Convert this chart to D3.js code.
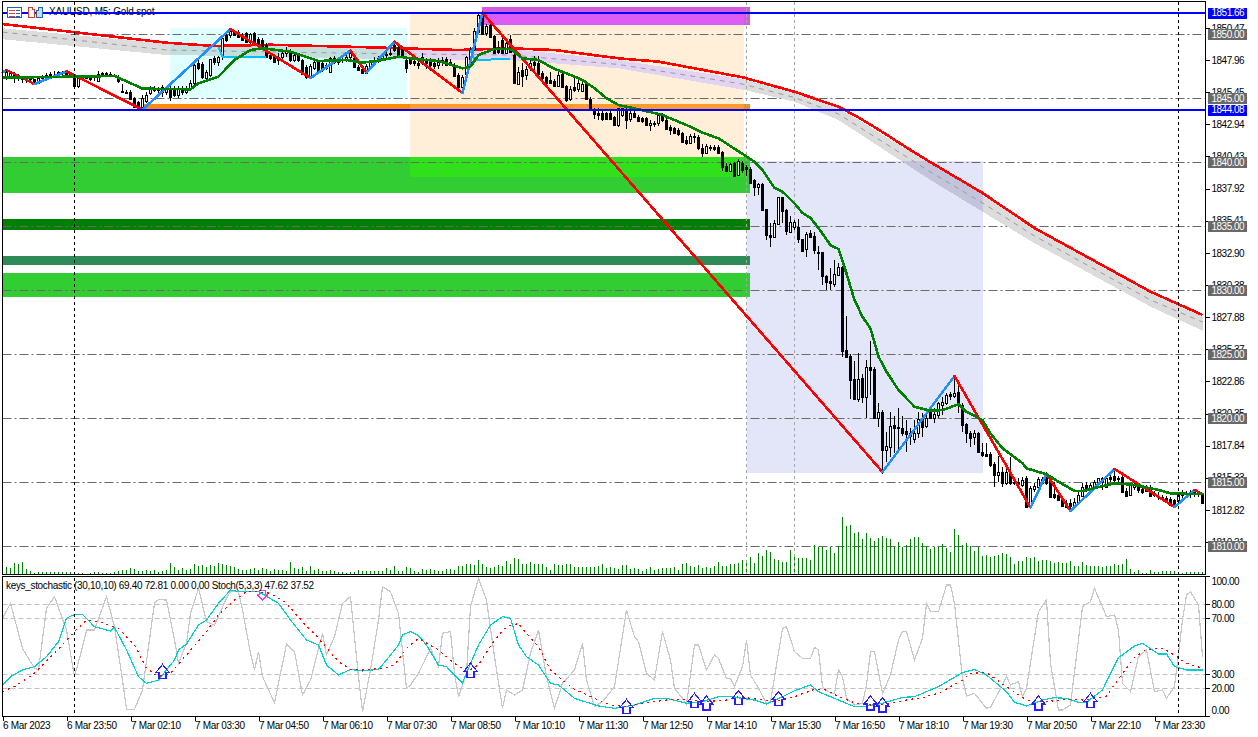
<!DOCTYPE html>
<html><head><meta charset="utf-8">
<script src="https://cdnjs.cloudflare.com/ajax/libs/d3/7.8.5/d3.min.js"></script>
<style>html,body{margin:0;padding:0;background:#fff;overflow:hidden}svg{display:block}
text{font-family:"Liberation Sans",Arial,sans-serif;font-size:10px;letter-spacing:-0.5px}</style></head>
<body><svg id="c" width="1258" height="737"></svg>
<script>
const candleOpen=[
1846.62,1846.7,1846.9,1846.62,1846.55,1846.5,1846.6,1846.45,1846.15,1846.55,
1846.7,1846.8,1846.9,1846.85,1847.0,1846.95,1846.85,1846.65,1845.95,1846.55,
1846.65,1846.6,1846.5,1846.3,1846.85,1846.95,1846.85,1846.8,1846.65,1845.55,
1845.5,1845.5,1844.98,1844.7,1844.33,1844.75,1845.37,1845.76,1845.6,1845.85,
1845.5,1845.76,1845.68,1845.24,1845.7,1845.5,1845.76,1846.15,1847.71,1847.65,
1846.54,1846.8,1848.1,1847.79,1848.29,1849.93,1849.93,1850.19,1850.19,1849.9,
1850.06,1849.4,1850.06,1849.6,1849.54,1849.14,1848.36,1848.29,1848.23,1848.23,
1848.49,1848.62,1847.97,1848.36,1847.97,1847.45,1846.62,1847.32,1847.84,1847.71,
1847.58,1847.06,1848.1,1847.8,1847.95,1848.05,1848.2,1848.1,1847.45,1847.24,
1846.98,1847.5,1847.92,1848.0,1848.1,1848.36,1848.45,1849.14,1849.01,1848.88,
1847.97,1848.02,1847.9,1847.7,1847.84,1847.97,1848.02,1847.7,1847.6,1847.85,
1848.02,1847.84,1847.5,1846.8,1845.84,1846.9,1847.84,1848.81,1850.19,1851.55,
1850.06,1850.7,1849.85,1849.01,1849.54,1848.49,1849.59,1848.36,1846.1,1847.19,
1846.8,1847.32,1847.79,1847.71,1846.98,1846.62,1846.41,1846.33,1845.94,1846.85,
1845.94,1844.9,1845.89,1845.68,1845.55,1846.07,1844.93,1844.12,1843.81,1843.81,
1843.81,1843.86,1843.5,1842.87,1843.68,1844.07,1843.34,1843.86,1843.55,1843.42,
1843.42,1842.87,1843.08,1843.03,1843.68,1843.29,1842.7,1842.63,1842.5,1842.24,
1841.72,1841.51,1841.93,1841.98,1841.07,1840.73,1841.2,1841.15,1841.15,1840.76,
1839.72,1839.33,1839.9,1838.99,1839.95,1839.64,1839.46,1838.6,1838.08,1838.28,
1836.3,1834.3,1834.17,1835.16,1837.24,1836.25,1834.56,1834.9,1834.9,1833.96,
1833.18,1834.43,1834.22,1832.97,1832.97,1831.1,1830.7,1830.47,1831.17,1831.83,
1825.31,1824.84,1823.05,1821.46,1823.1,1821.67,1823.96,1823.83,1819.98,1820.45,
1817.5,1817.76,1819.46,1819.33,1819.2,1818.98,1818.8,1818.39,1818.8,1819.9,
1819.38,1820.44,1820.03,1820.24,1821.02,1821.15,1821.85,1821.75,1822.0,1821.02,
1819.5,1818.86,1818.5,1818.8,1817.37,1817.16,1817.19,1816.38,1815.53,1815.81,
1814.95,1815.81,1815.03,1815.03,1814.77,1815.29,1813.07,1814.45,1814.64,1814.9,
1815.55,1815.29,1814.06,1813.98,1813.6,1813.33,1813.33,1813.12,1813.46,1813.9,
1814.77,1814.5,1814.69,1814.9,1815.29,1814.64,1815.42,1815.47,1815.29,1815.36,
1814.32,1813.98,1814.64,1814.77,1814.43,1814.69,1814.64,1814.11,1813.91,1813.8,
1813.72,1813.65,1813.59,1813.54,1814.11,1814.11,1814.17,1814.32,1814.11,1814.06];
const candleHigh=[
1847.19,1847.1,1847.0,1846.85,1846.7,1846.7,1846.72,1846.5,1846.65,1846.8,
1846.95,1847.05,1847.1,1847.1,1847.1,1847.15,1847.05,1846.8,1846.65,1846.75,
1846.8,1846.72,1846.75,1847.1,1847.05,1847.05,1847.0,1846.9,1846.8,1846.1,
1845.65,1845.65,1845.1,1844.8,1845.2,1845.5,1845.95,1845.9,1845.85,1846.0,
1845.95,1846.25,1845.9,1845.9,1845.95,1845.9,1846.4,1847.7,1847.95,1847.8,
1847.2,1848.05,1848.3,1848.3,1849.75,1850.1,1850.3,1850.3,1850.28,1850.1,
1850.15,1850.1,1850.15,1849.75,1849.65,1849.3,1848.55,1848.4,1848.5,1848.75,
1849.0,1848.8,1848.55,1848.5,1848.05,1847.6,1847.65,1848.0,1848.0,1847.85,
1847.7,1848.2,1848.25,1848.05,1848.15,1848.35,1848.7,1848.25,1847.55,1847.35,
1847.65,1848.0,1848.2,1848.25,1848.5,1848.6,1848.8,1849.4,1849.1,1849.0,
1848.3,1848.2,1848.0,1848.0,1848.55,1848.1,1848.15,1848.0,1848.1,1848.2,
1848.2,1848.05,1847.7,1846.95,1846.8,1848.3,1849.0,1850.5,1851.66,1851.66,
1850.8,1850.9,1849.95,1849.45,1849.85,1849.6,1849.9,1848.7,1847.4,1847.7,
1847.5,1848.1,1848.25,1848.3,1847.1,1846.75,1847.0,1846.45,1847.05,1847.0,
1846.0,1845.9,1846.6,1846.5,1846.35,1846.25,1845.1,1844.25,1844.2,1843.95,
1843.9,1844.0,1843.6,1844.25,1844.25,1844.2,1844.05,1844.0,1843.7,1843.55,
1843.55,1843.3,1843.2,1843.85,1843.85,1843.4,1842.9,1842.75,1842.65,1842.35,
1842.0,1842.2,1842.25,1842.1,1841.4,1841.4,1841.35,1841.3,1841.3,1840.85,
1839.95,1839.9,1840.0,1840.2,1840.1,1839.8,1839.6,1838.7,1838.34,1838.35,
1836.35,1835.2,1835.47,1837.25,1837.3,1836.3,1835.78,1835.47,1835.52,1834.0,
1834.56,1834.7,1834.56,1833.44,1833.0,1831.2,1831.7,1832.35,1832.09,1831.9,
1827.97,1825.0,1824.46,1825.1,1823.44,1824.53,1826.02,1824.0,1821.15,1820.63,
1818.93,1820.5,1820.16,1820.76,1820.16,1819.85,1819.2,1819.85,1820.5,1820.37,
1820.5,1820.63,1820.76,1821.28,1821.67,1821.93,1822.06,1823.23,1822.71,1821.2,
1819.6,1819.0,1819.07,1818.93,1818.03,1818.07,1817.37,1816.6,1817.0,1816.2,
1816.0,1816.98,1815.4,1815.3,1815.42,1815.5,1814.7,1814.9,1815.4,1815.42,
1815.8,1815.5,1815.03,1814.1,1813.7,1813.6,1813.65,1813.72,1814.24,1814.95,
1815.03,1814.9,1815.16,1815.34,1815.4,1815.4,1815.68,1815.99,1815.47,1815.5,
1814.5,1814.85,1815.03,1814.9,1814.6,1814.77,1814.8,1814.3,1814.24,1813.95,
1813.9,1813.8,1813.7,1814.1,1814.38,1814.3,1814.38,1814.43,1814.24,1814.15];
const candleLow=[
1846.41,1846.5,1846.2,1846.3,1846.2,1846.15,1846.3,1846.1,1846.1,1846.45,
1846.55,1846.65,1846.7,1846.7,1846.8,1846.75,1846.6,1845.9,1845.75,1846.4,
1846.45,1846.3,1846.35,1846.25,1846.7,1846.75,1846.7,1846.65,1846.2,1845.4,
1845.35,1844.85,1844.2,1844.25,1844.08,1844.6,1845.2,1845.45,1845.35,1845.05,
1845.25,1844.8,1845.1,1845.0,1845.2,1845.3,1845.6,1845.9,1847.2,1846.5,
1846.35,1846.65,1847.6,1847.5,1848.0,1849.4,1849.7,1849.85,1849.7,1849.45,
1849.35,1849.25,1849.25,1849.1,1848.9,1848.1,1848.0,1847.7,1847.55,1847.9,
1848.2,1847.85,1847.85,1847.8,1846.8,1846.5,1846.5,1847.2,1847.0,1847.05,
1847.15,1846.95,1847.65,1847.6,1847.7,1847.85,1848.0,1847.4,1847.1,1846.85,
1846.88,1847.35,1847.7,1847.75,1847.95,1848.1,1848.25,1848.6,1848.2,1848.15,
1846.95,1847.55,1847.5,1847.3,1847.6,1847.3,1847.1,1847.3,1847.3,1847.5,
1847.5,1847.55,1846.7,1845.85,1845.65,1846.6,1847.5,1848.7,1850.0,1849.9,
1849.85,1849.7,1848.4,1848.4,1848.4,1848.4,1848.5,1846.1,1846.0,1845.85,
1846.4,1847.1,1847.2,1846.75,1846.3,1846.05,1846.1,1845.9,1845.85,1845.85,
1844.7,1844.8,1845.5,1845.5,1845.45,1844.85,1844.1,1843.35,1843.3,1843.2,
1843.3,1843.3,1842.85,1842.75,1843.5,1842.6,1843.1,1843.4,1843.1,1843.05,
1842.8,1842.4,1842.7,1842.85,1843.1,1842.5,1842.1,1842.15,1842.05,1841.55,
1841.3,1841.4,1841.5,1840.9,1840.4,1840.6,1840.85,1840.85,1840.6,1839.3,
1839.2,1839.25,1838.9,1838.9,1839.12,1838.9,1838.3,1837.35,1837.43,1836.25,
1833.9,1833.34,1834.04,1835.1,1835.2,1834.3,1834.43,1834.7,1833.65,1833.0,
1832.6,1834.1,1832.82,1831.56,1830.39,1830.0,1830.0,1830.21,1831.1,1824.79,
1824.79,1821.46,1821.41,1821.28,1821.15,1819.98,1821.8,1819.98,1819.33,1815.63,
1816.59,1816.98,1817.28,1817.28,1818.6,1817.37,1817.9,1818.02,1818.41,1818.54,
1819.2,1819.9,1819.58,1819.98,1820.24,1821.0,1821.4,1821.54,1820.37,1818.93,
1818.02,1817.76,1817.89,1817.24,1816.98,1816.98,1816.2,1814.64,1815.03,1814.64,
1814.8,1814.77,1814.8,1814.5,1814.6,1813.02,1812.94,1814.2,1814.5,1814.8,
1814.8,1813.8,1813.7,1813.5,1813.07,1813.0,1812.76,1813.0,1813.33,1813.8,
1814.2,1814.3,1814.5,1814.64,1814.38,1814.5,1815.0,1815.03,1815.03,1814.17,
1813.8,1813.9,1814.38,1814.12,1814.06,1814.2,1813.85,1813.8,1813.59,1813.5,
1813.35,1813.1,1813.0,1813.33,1813.72,1813.72,1813.72,1813.85,1813.8,1813.28];
const candleClose=[
1847.06,1846.95,1846.62,1846.55,1846.5,1846.6,1846.5,1846.15,1846.55,1846.7,
1846.8,1846.9,1846.85,1847.0,1846.95,1846.85,1846.7,1845.95,1846.55,1846.65,
1846.6,1846.5,1846.45,1846.85,1846.95,1846.85,1846.8,1846.7,1846.3,1845.5,
1845.42,1844.95,1844.3,1844.33,1844.98,1845.24,1845.76,1845.6,1845.7,1845.5,
1845.8,1845.11,1845.24,1845.7,1845.5,1845.8,1846.15,1847.58,1847.32,1846.67,
1847.06,1848.02,1847.84,1848.18,1849.66,1849.54,1850.26,1849.95,1849.8,1849.55,
1849.4,1850.0,1849.33,1849.27,1849.01,1848.23,1848.1,1847.84,1848.0,1848.55,
1848.75,1847.97,1848.36,1847.97,1846.88,1846.62,1847.53,1847.79,1847.06,1847.19,
1847.32,1848.1,1847.8,1847.95,1848.05,1848.2,1848.5,1847.45,1847.19,1846.93,
1847.5,1847.92,1848.0,1848.1,1848.36,1848.45,1848.55,1848.75,1848.29,1848.23,
1847.32,1847.71,1847.7,1847.6,1848.23,1847.71,1847.58,1847.5,1847.85,1848.0,
1847.58,1847.58,1846.72,1845.89,1846.62,1848.2,1848.75,1850.24,1851.49,1849.98,
1850.63,1849.8,1848.49,1848.62,1848.49,1849.27,1848.62,1846.15,1847.06,1846.72,
1847.27,1847.71,1847.58,1846.88,1846.54,1846.15,1846.15,1845.97,1846.8,1845.89,
1844.85,1845.71,1845.63,1846.15,1846.07,1844.9,1844.12,1843.75,1843.68,1843.34,
1843.34,1843.34,1842.9,1844.2,1844.2,1843.29,1843.81,1843.55,1843.23,1843.23,
1842.9,1843.08,1842.97,1843.68,1843.29,1842.56,1842.5,1842.24,1842.19,1841.59,
1841.51,1842.03,1842.03,1841.07,1840.73,1841.28,1841.07,1841.02,1840.73,1839.64,
1839.33,1839.82,1838.94,1840.11,1839.38,1839.43,1838.34,1838.08,1838.26,1836.25,
1834.3,1834.12,1835.21,1837.24,1836.2,1834.64,1835.31,1835.29,1833.96,1833.08,
1834.35,1834.17,1833.13,1832.87,1831.1,1830.65,1830.52,1831.23,1831.77,1825.26,
1824.79,1822.97,1821.46,1823.08,1821.67,1823.96,1823.75,1820.0,1820.45,1817.5,
1817.79,1819.38,1819.2,1819.2,1818.86,1818.73,1818.6,1818.86,1819.9,1819.33,
1819.98,1820.03,1820.29,1821.15,1821.28,1821.8,1821.75,1821.98,1821.02,1819.46,
1818.8,1818.41,1818.8,1817.37,1817.11,1817.03,1816.33,1815.55,1815.78,1814.95,
1815.81,1814.95,1814.9,1814.84,1815.16,1813.07,1814.5,1814.69,1815.21,1815.23,
1814.9,1813.85,1813.85,1813.6,1813.12,1813.07,1813.12,1813.46,1813.98,1814.64,
1814.45,1814.77,1815.03,1815.29,1815.03,1815.29,1815.23,1815.16,1815.21,1814.24,
1813.91,1814.77,1814.77,1814.38,1814.22,1814.32,1813.91,1813.98,1813.8,1813.65,
1813.46,1813.2,1813.07,1813.98,1813.98,1814.06,1814.06,1814.06,1814.03,1813.39];
const tickVolume=[
70,60,110,100,120,50,30,10,20,20,20,20,20,20,20,20,20,20,10,10,
0,10,20,20,10,10,10,20,30,40,40,60,50,30,30,40,30,40,20,30,
40,110,70,40,60,40,50,100,80,90,70,90,80,110,100,90,80,70,50,40,
40,50,60,40,60,50,30,50,40,40,30,120,60,50,70,30,80,40,50,30,
30,40,30,20,20,10,20,20,40,30,30,30,30,30,30,60,40,80,30,30,
70,60,30,20,50,40,50,40,30,30,50,50,40,80,80,100,100,90,140,100,
70,60,70,90,80,130,100,160,150,100,100,120,100,100,100,70,40,100,90,90,
100,100,70,70,70,70,70,70,80,100,60,70,60,50,90,90,50,60,50,30,
50,70,40,50,60,60,60,70,40,100,110,80,70,90,60,70,60,80,120,80,
80,100,100,110,140,130,170,110,210,180,240,220,150,140,120,120,240,170,160,160,
160,140,290,270,270,240,270,210,280,570,480,490,410,420,350,410,360,330,360,380,
360,350,270,320,270,290,350,370,370,310,280,250,270,270,300,260,220,450,390,290,
310,280,230,270,180,190,170,180,190,210,200,170,100,130,130,170,160,170,130,140,
140,130,110,120,110,110,130,80,80,120,90,80,80,80,70,80,80,100,90,100,
150,50,20,40,10,10,40,20,20,30,30,30,30,20,10,20,20,20,20,20];
const zigzagBars=[-1,0,7,15,34,56,76,86,90,97,114,119,219,237,256,260,266,277,292,297,299];
const zigzagPrices=[1847.0,1847.19,1846.09,1847.08,1844.08,1850.39,1846.56,1848.7,1846.98,1849.4,1845.39,1851.66,1815.78,1823.28,1813.0,1815.63,1812.73,1816.02,1813.05,1814.38,1814.06];
const fastMaBars=[-1,15,27,32,34,46,48,53,57,61,64,71,78,85,89,93,98,103,108,114,116,118,122,126,129,133,137,140,144,147,150,153,158,164,170,174,178,184,187,189,192,194,197,199,201,203,206,208,210,212,214,216,218,220,223,227,231,234,238,240,244,246,249,254,255,260,263,267,269,277,282,288,291,297,299];
const fastMaPrices=[1846.59,1846.66,1846.72,1846.02,1845.73,1845.68,1846.15,1846.67,1847.97,1848.75,1848.88,1848.62,1847.89,1847.97,1847.76,1847.92,1848.23,1848.02,1847.89,1847.32,1847.45,1848.36,1848.83,1848.83,1848.1,1847.97,1847.27,1846.93,1846.41,1845.76,1844.98,1844.45,1844.12,1843.67,1842.89,1842.29,1841.85,1840.63,1840.02,1839.38,1837.97,1837.68,1836.77,1836.02,1835.63,1834.84,1833.51,1833.2,1831.3,1829.22,1827.91,1827.0,1824.79,1823.62,1822.19,1820.88,1820.57,1820.62,1821.07,1820.49,1819.84,1818.8,1817.63,1816.46,1816.07,1815.6,1815.02,1814.3,1814.3,1814.9,1814.77,1814.38,1814.11,1814.06,1814.06];
const slowMaBars=[-1,40,52,66,91,99,113,126,137,153,163,184,197,208,213,219,225,231,244,257,286,299];
const slowMaPrices=[1850.78,1849.32,1849.06,1849.16,1848.96,1848.88,1848.75,1848.88,1848.75,1848.1,1847.84,1846.62,1845.49,1844.32,1843.48,1842.34,1841.13,1839.98,1837.58,1834.84,1829.87,1828.05];
const bandBars=[-1,40,66,99,126,153,184,197,208,231,244,257,286,299];
const bandUpper=[1850.45,1849.24,1849.1,1848.85,1848.83,1847.97,1846.48,1845.39,1844.22,1839.88,1837.46,1834.77,1829.77,1827.97];
const bandLower=[1849.59,1848.36,1848.23,1848.02,1847.97,1847.32,1845.66,1844.71,1843.28,1838.59,1836.12,1833.65,1828.7,1826.82];
const bandMiddle=[1850.15,1848.75,1848.6,1848.44,1848.36,1847.62,1846.09,1845.04,1843.75,1839.22,1836.8,1834.22,1829.22,1827.5];
const guideBars=[[53,54,65],[116,117,126]];
const guidePrices=[[1849.0,1848.2,1848.24],[1848.75,1847.97,1848.05]];
const priceTicks=[1850.47,1847.96,1845.45,1842.94,1840.43,1837.92,1835.41,1832.90,1830.38,1827.88,1825.37,1822.86,1820.35,1817.84,1815.33,1812.82,1810.31];
const roundLevels=[1850,1845,1840,1835,1830,1825,1820,1815,1810];
const blueLevels=[1851.66,1844.08];
const timeTickBars=[-1,15,31,47,63,79,95,111,127,143,159,175,191,207,223,239,255,271,287];
const timeTickLabels=["6 Mar 2023","6 Mar 23:50","7 Mar 02:10","7 Mar 03:30","7 Mar 04:50","7 Mar 06:10","7 Mar 07:30","7 Mar 08:50","7 Mar 10:10","7 Mar 11:30","7 Mar 12:50","7 Mar 14:10","7 Mar 15:30","7 Mar 16:50","7 Mar 18:10","7 Mar 19:30","7 Mar 20:50","7 Mar 22:10","7 Mar 23:30"];
const stochTicks=[100,80,70,30,20,0];
const stochLevels=[80,70,30,20];
const stochMainBars=[-1,1,4,7,10,13,15,17,19,22,26,27,30,33,35,38,40,42,43,45,48,50,53,56,58,63,68,71,75,78,80,83,86,89,93,95,98,99,101,103,105,108,110,112,114,116,118,121,124,126,128,130,133,136,138,142,148,152,157,162,165,170,174,178,181,187,190,194,197,201,203,206,208,212,214,219,224,227,233,239,242,245,250,252,255,259,262,265,268,270,274,278,279,282,284,288,290,292,295,299];
const stochMainValues=[22.4,28.3,33.1,35.5,42.6,53.3,70,72.8,72.8,64,60.9,63.5,47.4,28.3,23.5,25.9,33.1,40.2,47.4,51.6,65.2,68.8,80.7,90.2,89,89,80.7,68.8,54.5,50.9,36.6,29.5,33.5,32.4,33.5,40.2,50.9,58.1,60.5,57.6,50.9,36.6,35.5,29.5,24,37.8,50.9,65.2,71.2,70,50.9,42.6,36.6,23.5,22.4,12.8,7.4,5.7,8.1,12.8,12.8,9.3,10.5,14,14,11.6,8.8,14,18.3,22.4,17.6,14,11.6,6.9,6.9,9.3,13.5,14,21.2,31.2,33.5,29.5,17.6,10,7.4,11.6,13.3,12.8,10,10,18.8,42.1,43.8,50.2,52.1,44.5,44.5,35.5,33.1,33.1];
const stochSignalBars=[-1,2,7,12,17,20,23,28,32,35,38,41,45,50,53,57,60,63,66,70,74,78,83,86,89,94,97,100,103,108,112,115,118,122,125,128,130,133,136,139,142,147,151,155,160,165,170,175,180,183,188,192,197,202,205,208,212,216,220,225,229,233,239,241,245,250,255,260,265,270,275,279,282,285,289,292,295,299];
const stochSignalValues=[17.6,21.2,30.7,45,60.5,68.8,67.6,62.8,50.9,34.3,28.3,30.7,43.8,60.5,72.4,83,89,89,87.8,80.7,67.6,55.7,39,33.5,33.1,34.3,36.6,48.5,55.7,47.4,37.8,31.9,36.6,54.5,64,66.4,59.3,49.7,33.1,25.9,19.3,12.8,8.1,6.9,9.7,11.6,12.1,10.5,11.6,14,12.1,10.5,14,19.3,18.8,14,9.7,8.1,8.8,11.6,13.5,16.4,25.9,30.7,31.2,21.2,11.6,10.5,12.1,11.6,14.5,30.7,42.1,47.8,48.5,43.8,37.8,34.3];
const stochFastBars=[-1,1,4,7,8,10,12,15,17,19,20,22,25,27,29,30,32,34,37,38,40,42,43,45,46,48,50,52,55,56,58,59,61,62,63,64,67,70,72,74,76,79,80,82,84,86,88,89,91,93,94,96,98,100,101,103,106,108,109,111,112,113,115,116,118,120,122,124,125,127,129,131,133,135,137,139,142,144,145,147,149,152,155,157,158,160,162,164,166,167,169,170,172,173,175,177,178,180,181,182,184,185,186,188,190,191,194,195,197,199,201,202,203,204,206,207,208,209,210,212,214,215,216,217,219,221,223,224,225,227,229,230,231,233,235,236,237,239,240,242,245,246,249,250,251,253,254,255,258,260,261,263,264,266,269,271,272,275,277,278,279,281,283,285,287,289,290,292,294,295,296,298,299];
const stochFastValues=[70,80.7,48.5,34.3,33.1,77.1,85.5,61.6,28.3,49.7,61.6,61.6,85.5,64,25.9,5,5,18.8,80.7,83.5,83,54.5,37.8,52.1,73.5,91.4,67.6,65.2,84.3,89,89,75.9,45,33.1,46.2,28.3,9.7,51.6,46.2,15.2,25.9,59.3,43.8,56.9,80.7,85.5,28.3,3.3,33.1,68.8,92.6,89,73.5,20,22.4,30.7,48.5,35.5,59.3,60.5,30.7,14,30.7,78.3,98.5,83,42.6,5.7,18.8,15.2,18.8,45,61.6,28.3,5.7,23.5,33.1,52.1,25.9,6.9,10.5,21.2,75.9,56.9,53.3,30.7,25.9,60.5,40.2,20,12.8,8.1,50.9,50.9,33.1,43.8,41.4,27.1,27.1,21.2,35.5,54.5,29.5,20,9.3,10.5,62.8,64,46.2,41.4,41.4,49.3,47.4,21.2,16.4,16.4,33.1,28.3,12.8,8.1,9.3,22.4,46.2,46.2,16.4,29.5,54.5,60.5,60.5,40.2,55.7,80.7,74.7,74.7,93.8,93.8,80.7,27.1,14.5,16.4,5.7,6.4,22.4,28.3,22.4,24.7,14,20,74.7,83,37.8,4.5,4.5,8.1,78.3,81.9,91.4,71.2,72.4,61.6,23.5,17.6,42.6,47.4,17.6,18.8,12.8,21.2,68.8,86.6,89,79.5,42.6];
const buyArrowBars=[39,116,155,172,175,183,193,216,219,258,271];
const buyArrowValues=[37.1,38,12.1,16.4,14.5,18.3,17.6,14.5,13.1,14.5,16.4];
const sellArrowBars=[64];
const sellArrowValues=[83];
const cursorBlack=[17,293];
const cursorGray=[185,197];
// zones [barStart, barEnd, priceTop, priceBottom]
const zoneCyan=[40.9,100.1,1850.47,1844.96];
const zoneOrange=[100.9,184.25,1851.56,1838.83];
const zoneLavender=[185,244.1,1840.08,1815.7];
const zonePurple=[118.9,185.9,1852.11,1850.7];
const zoneBar=[34.1,185.9,1844.53,1843.98];
const greenZones=[[-0.9,185.9,1840.39,1837.58],[-0.9,185.9,1835.55,1834.69],[-0.9,185.9,1832.66,1831.95],[-0.9,185.9,1831.33,1829.48]];
const greenColors=["#32CD32","#008000","#2E8B57","#32CD32"];

const svg=d3.select("#c");
const x=d3.scaleLinear().domain([0,299]).range([6.5,1202.5]);
const y=d3.scaleLinear().domain([1850,1810]).range([34,546]);
const yv=d3.scaleLinear().domain([0,600]).range([574,514]);
const ys=d3.scaleLinear().domain([0,100]).range([716.3,576.3]);
const L=2.5,R=1205.5,T=1.5,MB=574.5,ST=576.5,SB=716.5;

svg.append("rect").attr("width",1258).attr("height",737).attr("fill","#fff");
const crisp=s=>s.attr("shape-rendering","crispEdges");
function zone(g,z,c){return crisp(g.append("rect").attr("x",x(z[0])).attr("width",x(z[1])-x(z[0])).attr("y",y(z[2])).attr("height",y(z[3])-y(z[2])).attr("fill",c));}
function meet(a,b){return [Math.max(a[0],b[0]),Math.min(a[1],b[1]),Math.min(a[2],b[2]),Math.max(a[3],b[3])];}
const gz=svg.append("g");
zone(gz,zoneCyan,"#E0FFFF");zone(gz,zoneOrange,"#FFEFD9");zone(gz,zoneLavender,"#E3E5F8");
greenZones.forEach((z,i)=>zone(gz,z,greenColors[i]));
zone(gz,meet(greenZones[0],zoneOrange),"#2FE01A");
zone(gz,zonePurple,"#D45CDC");zone(gz,meet(zonePurple,zoneOrange),"#DC5CF6");
zone(gz,zoneBar,"#FF8C00");zone(gz,meet(zoneBar,zoneOrange),"#FF9A2C");

// round level lines
svg.append("g").selectAll("line").data(roundLevels).join("line")
 .attr("x1",L).attr("x2",R).attr("y1",d=>Math.round(y(d))+.5).attr("y2",d=>Math.round(y(d))+.5)
 .attr("stroke","#696969").attr("stroke-dasharray","9,3,2,3");

// band
const defs=svg.append("defs");
[["cCyan",zoneCyan],["cOrange",zoneOrange],["cLav",zoneLavender]].forEach(([id,z])=>{
 defs.append("clipPath").attr("id",id).append("rect").attr("x",x(z[0])).attr("width",x(z[1])-x(z[0])).attr("y",y(z[2])).attr("height",y(z[3])-y(z[2]));});
const bandArea=d3.area().x((d,i)=>x(bandBars[i])).y0((d,i)=>y(bandLower[i])).y1((d,i)=>y(bandUpper[i]));
const gb=svg.append("g");
crisp(gb.append("path").attr("d",bandArea(bandBars)).attr("fill","#DCDCDC"));
[["cCyan","#C4DEDE"],["cOrange","#E2D3F2"],["cLav","#C3C4DC"]].forEach(([id,c])=>{
 crisp(gb.append("path").attr("d",bandArea(bandBars)).attr("fill",c).attr("clip-path",`url(#${id})`));});
const lineOf=(bars,vals,sc)=>d3.line().x((d,i)=>x(bars[i])).y((d,i)=>sc(vals[i]))(bars);
gb.append("path").attr("d",lineOf(bandBars,bandMiddle,y)).attr("fill","none").attr("stroke","#9A9A9A").attr("stroke-dasharray","5,5");

// volume
crisp(svg.append("g").selectAll("line").data(tickVolume).join("line")
 .attr("x1",(d,i)=>x(i)).attr("x2",(d,i)=>x(i)).attr("y1",574).attr("y2",d=>yv(d))
 .attr("stroke","#008000"));

// cursors (grey)
svg.append("g").selectAll("line").data(cursorGray).join("line")
 .attr("x1",d=>x(d)).attr("x2",d=>x(d)).attr("y1",2).attr("y2",574)
 .attr("stroke","#A6A6A6").attr("stroke-dasharray","3,3");

// slow MA
crisp(svg.append("path").attr("d",lineOf(slowMaBars,slowMaPrices,y)).attr("fill","none").attr("stroke","#FF0000").attr("stroke-width",2.6));

// candles
const gc=svg.append("g");
candleOpen.forEach((o,i)=>{
 const c=candleClose[i],px=x(i);
 crisp(gc.append("line").attr("x1",px).attr("x2",px).attr("y1",y(candleHigh[i])).attr("y2",y(candleLow[i])).attr("stroke","#000"));
 const t=Math.round(y(Math.max(o,c)))+.5,b=Math.round(y(Math.min(o,c)))+.5;
 crisp(gc.append("rect").attr("x",px-1).attr("width",2).attr("y",t).attr("height",Math.max(b-t,0))
  .attr("fill",c>=o?"#fff":"#000").attr("stroke","#000"));
});

// guide lines
guideBars.forEach((b,k)=>crisp(svg.append("path").attr("d",lineOf(b,guidePrices[k],y)).attr("fill","none").attr("stroke","#00BFFF").attr("stroke-width",2)));

// zigzag
const gzz=svg.append("g");
zigzagBars.slice(1).forEach((b,i)=>{
 const up=zigzagPrices[i+1]>zigzagPrices[i];
 crisp(gzz.append("line").attr("x1",x(zigzagBars[i])).attr("y1",y(zigzagPrices[i])).attr("x2",x(b)).attr("y2",y(zigzagPrices[i+1]))
  .attr("stroke",up?"#1E90FF":"#FF0000").attr("stroke-width",2.6).attr("stroke-linecap","round"));
});

// fast MA
crisp(svg.append("path").attr("d",lineOf(fastMaBars,fastMaPrices,y)).attr("fill","none").attr("stroke","#008000").attr("stroke-width",2.6));

// blue levels
crisp(svg.append("g").selectAll("line").data(blueLevels).join("line")
 .attr("x1",L).attr("x2",R).attr("y1",d=>Math.round(y(d))+.0).attr("y2",d=>Math.round(y(d))+.0).attr("stroke","#0000FF").attr("stroke-width",2));

// stoch pane
const gs=svg.append("g");
gs.selectAll("line").data(stochLevels).join("line").attr("x1",L).attr("x2",R)
 .attr("y1",d=>Math.round(ys(d))+.5).attr("y2",d=>Math.round(ys(d))+.5).attr("stroke","#C0C0C0").attr("stroke-dasharray","5,3");
crisp(gs.append("path").attr("d",lineOf(stochFastBars,stochFastValues,ys)).attr("fill","none").attr("stroke","#C8C8C8").attr("stroke-width",1.2));
crisp(gs.append("path").attr("d",lineOf(stochMainBars,stochMainValues,ys)).attr("fill","none").attr("stroke","#00CED1").attr("stroke-width",1.2));
crisp(gs.append("path").attr("d",lineOf(stochSignalBars,stochSignalValues,ys)).attr("fill","none").attr("stroke","#FF0000").attr("stroke-dasharray","2,4").attr("stroke-width",1.2));
const upShape=[[0,0],[6.5,8],[3.5,8],[3.5,14],[-3.5,14],[-3.5,8],[-6.5,8]];
crisp(gs.selectAll(".ua").data(buyArrowBars).join("polygon").attr("class","ua")
 .attr("points",(d,i)=>upShape.map(p=>[x(d)+p[0],ys(buyArrowValues[i])+p[1]].join(",")).join(" "))
 .attr("fill","none").attr("stroke","#2A1CFF").attr("stroke-width",1.2));
const downShape=[[0,0],[-5.5,-6],[-3,-6],[-3,-10],[3,-10],[3,-6],[5.5,-6]];
crisp(gs.selectAll(".da").data(sellArrowBars).join("polygon").attr("class","da")
 .attr("points",(d,i)=>downShape.map(p=>[x(d)+p[0],ys(sellArrowValues[i])+p[1]].join(",")).join(" "))
 .attr("fill","none").attr("stroke","#FF30F0").attr("stroke-width",1.2));

// black cursors
svg.append("g").selectAll("line").data(cursorBlack).join("line")
 .attr("x1",d=>x(d)).attr("x2",d=>x(d)).attr("y1",2).attr("y2",716)
 .attr("stroke","#000").attr("stroke-dasharray","3,3");

// frames
[[L,T,R-L,MB-T],[L,ST,R-L,SB-ST]].forEach(r=>crisp(svg.append("rect").attr("x",r[0]).attr("y",r[1]).attr("width",r[2]).attr("height",r[3]).attr("fill","none").attr("stroke","#000")));

// axes
const axP=svg.append("g").attr("transform",`translate(${R},0)`).call(d3.axisRight(y).tickValues(priceTicks).tickSize(4).tickPadding(2).tickFormat(d3.format(".2f")));
const axS=svg.append("g").attr("transform",`translate(${R},0)`).call(d3.axisRight(ys).tickValues(stochTicks).tickSize(4).tickPadding(2).tickFormat(d3.format(".2f")));
axS.selectAll("text").attr("dy","0.32em").attr("y",d=>d===100?4.7:d===0?-6:0);
const axT=svg.append("g").attr("transform",`translate(0,${SB})`).call(d3.axisBottom(x).tickValues(timeTickBars).tickSize(4).tickFormat(d=>timeTickLabels[timeTickBars.indexOf(d)]));
axT.selectAll("text").attr("text-anchor","start").attr("x",0).attr("y",9.2).attr("dy","0.32em").style("letter-spacing","-0.33px");
[axP,axS,axT].forEach(a=>{a.select(".domain").remove();a.selectAll("text").attr("fill","#000");a.selectAll("line").attr("shape-rendering","crispEdges");});

// level boxes
function box(v,c){const g=svg.append("g");crisp(g.append("rect").attr("x",1208).attr("width",39).attr("y",Math.round(y(v))-5).attr("height",11).attr("fill",c));
 g.append("text").attr("x",1211.5).attr("y",y(v)).attr("dy","0.36em").attr("fill","#fff").text(v.toFixed(2));}
roundLevels.forEach(v=>box(v,"#696969"));
blueLevels.forEach(v=>box(v,"#0000FF"));

// titles
svg.append("text").attr("x",49).attr("y",12).attr("dy","0.32em").attr("fill","#000").style("letter-spacing","-0.2px").text("XAUUSD, M5:  Gold spot").lower();
svg.select("rect").lower();
svg.append("text").attr("x",6).attr("y",585.7).attr("dy","0.32em").attr("fill","#000").style("letter-spacing","-0.33px").text("keys_stochastic (30,10,10) 69.40 72.81 0.00 0.00 Stoch(5,3,3) 47.62 37.52");

// toolbar icons
const gi=svg.append("g").attr("shape-rendering","crispEdges");
gi.append("rect").attr("x",7.5).attr("y",7.5).attr("width",14).attr("height",10).attr("fill","#fff").attr("stroke","#2464A8");
[10,13,16].forEach(v=>{gi.append("line").attr("x1",9).attr("x2",15).attr("y1",v).attr("y2",v).attr("stroke","#D83A3A");gi.append("line").attr("x1",16).attr("x2",20).attr("y1",v).attr("y2",v).attr("stroke","#2464A8");});
gi.append("path").attr("d","M28.5 7.5h4v2h2v8h-6z").attr("fill","#fff").attr("stroke","#D83A3A");
gi.append("path").attr("d","M36.5 17.5v-7h2v-3h4v10z").attr("fill","#BFDDF5").attr("stroke","#2464A8");
</script></body></html>
